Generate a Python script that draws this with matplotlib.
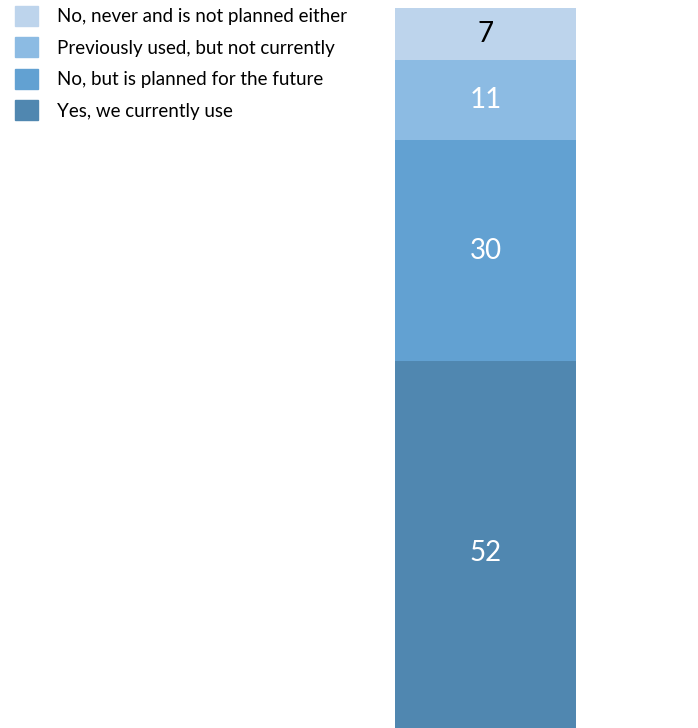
import matplotlib.pyplot as plt
from matplotlib.patches import Patch

# stacked bar, bottom to top
labels = ['Yes, we currently use', 'No, but is planned for the future',
          'Previously used, but not currently', 'No, never and is not planned either']
values = [52, 30, 11, 7]
colors = ['#5087B0', '#62A1D2', '#8CBBE3', '#BDD4EC']
text_colors = ['white', 'white', 'white', 'black']

plt.rcParams['font.family'] = ['Lato', 'DejaVu Sans']

fig = plt.figure(figsize=(6.98, 7.28), dpi=100)
# bar runs off the bottom edge of the picture
ax = fig.add_axes([395 / 698, -16 / 728, 181 / 698, 736 / 728])

bottom = 0
for lab, v, c, tc in zip(labels, values, colors, text_colors):
    ax.bar(0, v, width=1, bottom=bottom, color=c, label=lab)
    ax.text(0, bottom + v / 2, str(v), ha='center', va='center',
            fontsize=20, color=tc)
    bottom += v

ax.set_xlim(-0.5, 0.5)
ax.set_ylim(0, 100)
ax.axis('off')

handles = [Patch(color=c) for c in colors][::-1]
fig.legend(handles, labels[::-1], loc='upper left', bbox_to_anchor=(15 / 698, 1 - 6 / 728),
           frameon=False, fontsize=13.5, handlelength=1.25, handleheight=1.25,
           labelspacing=0.62, handletextpad=1.0, borderpad=0, borderaxespad=0)

fig.savefig('out.png', dpi=100)
